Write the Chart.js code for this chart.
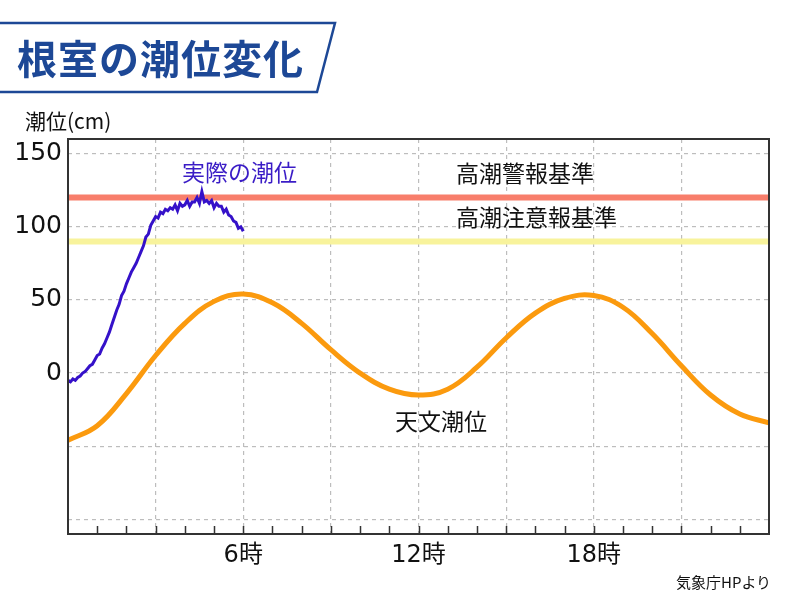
<!DOCTYPE html>
<html lang="ja">
<head>
<meta charset="utf-8">
<title>根室の潮位変化</title>
<script src="https://cdn.jsdelivr.net/npm/chart.js@4"></script>
<style>
    html, body { margin: 0; padding: 0; background: #fff; }
    #wrap { position: relative; width: 800px; height: 600px; overflow: hidden; font-family: "Noto Sans CJK JP", "Noto Sans", sans-serif; }
    #chart { position: absolute; left: 0; top: 0; }
    .txt { position: absolute; white-space: nowrap; line-height: 1; color: #111; }
    #titleBox { position: absolute; left: 0; top: 0; }
    #title { left: 17px; top: 37px; font-size: 40px; font-weight: 700; color: #1d4896; letter-spacing: 1px; }
</style>
</head>
<body>
<div id="wrap">
    <canvas id="chart" width="800" height="600"></canvas>
    <svg id="titleBox" width="360" height="100">
        <polygon points="-5,23 335,23 317,92 -5,92" fill="#ffffff" stroke="#1d4896" stroke-width="2.5"/>
    </svg>
    <div class="txt" id="title">根室の潮位変化</div>
    <div class="txt" style="left:25px; top:110px; font-size:21px;">潮位(cm)</div>
    <div class="txt" style="left:182px; top:160px; font-size:23px; color:#3a1cc6;">実際の潮位</div>
    <div class="txt" style="left:456px; top:161px; font-size:23px;">高潮警報基準</div>
    <div class="txt" style="left:456px; top:205px; font-size:23px;">高潮注意報基準</div>
    <div class="txt" style="left:395px; top:409px; font-size:23px;">天文潮位</div>
    <div class="txt" style="left:676px; top:574px; font-size:15px;">気象庁HPより</div>
</div>
<script>
// 時刻 (時) と天文潮位 (cm)
const astroHours = [0, 1, 2, 3, 4, 5, 6, 7, 8, 9, 10, 11, 12, 13, 14, 15, 16, 17, 18, 19, 20, 21, 22, 23, 24];
const astroTide = [-46, -36, -14, 12, 34, 49, 54, 48, 34, 16, 0, -11, -15, -11, 4, 24, 41, 51, 53, 45, 27, 5, -15, -28, -34];

// 実際の潮位 (cm) 0時から5分ごと
const actualStepMin = 5;
const actualTide = [
    -5, -6, -4, -5, -3, -2, 0, 1, 3, 5, 6, 9,
    12, 13, 17, 20, 24, 28, 33, 38, 43, 47, 53, 56,
    61, 65, 69, 72, 75, 79, 83, 87, 93, 95, 101, 104,
    107, 106, 110, 109, 112, 111, 113, 112, 115, 111, 116, 114,
    115, 118, 114, 117, 117, 120, 116, 124, 117, 118, 116, 118,
    113, 116, 114, 114, 110, 112, 108, 107, 104, 103, 99, 100,
    97
];

// 基準
const warningLevel = 120;   // 高潮警報基準
const advisoryLevel = 90;   // 高潮注意報基準

const yTicks = [-100, -50, 0, 50, 100, 150];
const xLabels = { 6: '6時', 12: '12時', 18: '18時' };

const astroPoints = astroHours.map((h, i) => ({ x: h, y: astroTide[i] }));
const actualPoints = actualTide.map((v, i) => ({ x: i * actualStepMin / 60, y: v }));
const levelLine = (v) => [{ x: 0, y: v }, { x: 24, y: v }];

// 枠線と時刻の目盛り (内向き)
const framePlugin = {
    id: 'frame',
    afterDraw(chart) {
        const { ctx, chartArea: a, scales } = chart;
        ctx.save();
        ctx.strokeStyle = '#333';
        ctx.beginPath();
        for (let h = 1; h < 24; h++) {
            const px = Math.round(scales.x.getPixelForValue(h)) + 0.5;
            ctx.moveTo(px, a.bottom);
            ctx.lineTo(px, a.bottom - 8);
        }
        ctx.lineWidth = 1.5;
        ctx.stroke();
        ctx.lineWidth = 2;
        ctx.strokeRect(a.left, a.top, a.right - a.left, a.bottom - a.top);
        ctx.restore();
    }
};

new Chart(document.getElementById('chart'), {
    type: 'line',
    data: {
        datasets: [
            {
                label: '実際の潮位',
                data: actualPoints,
                borderColor: '#3511c9',
                borderWidth: 3,
                pointRadius: 0,
                tension: 0,
                order: 0
            },
            {
                label: '天文潮位',
                data: astroPoints,
                borderColor: '#fb9a0e',
                borderWidth: 5,
                pointRadius: 0,
                tension: 0.4,
                order: 1
            },
            {
                label: '高潮警報基準',
                data: levelLine(warningLevel),
                borderColor: '#f87e6b',
                borderWidth: 6,
                pointRadius: 0,
                order: 2
            },
            {
                label: '高潮注意報基準',
                data: levelLine(advisoryLevel),
                borderColor: '#f8f39c',
                borderWidth: 6,
                pointRadius: 0,
                order: 3
            }
        ]
    },
    options: {
        responsive: false,
        animation: false,
        devicePixelRatio: 1,
        layout: { padding: { top: 139, left: 0, right: 31, bottom: 24 } },
        plugins: { legend: { display: false }, tooltip: { enabled: false } },
        scales: {
            x: {
                type: 'linear',
                min: 0,
                max: 24,
                afterFit: (s) => { s.height = 42; },
                afterBuildTicks: (s) => { s.ticks = astroHours.map(h => ({ value: h })); },
                grid: {
                    drawTicks: false,
                    color: (c) => (c.tick && c.tick.value % 3 === 0 && c.tick.value > 0 && c.tick.value < 24) ? '#bdbdbd' : 'rgba(0,0,0,0)',
                    lineWidth: 1.2
                },
                border: { display: false, dash: [4, 4] },
                ticks: {
                    autoSkip: false,
                    maxRotation: 0,
                    padding: 7,
                    color: '#111',
                    font: { family: '"DejaVu Sans", "Noto Sans CJK JP"', size: 24 },
                    callback: (v) => xLabels[v] || ''
                }
            },
            y: {
                min: -110,
                max: 160,
                afterFit: (s) => { s.width = 68; },
                afterBuildTicks: (s) => { s.ticks = yTicks.map(v => ({ value: v })); },
                grid: { drawTicks: false, color: '#bdbdbd', lineWidth: 1.2 },
                border: { display: false, dash: [4, 4] },
                ticks: {
                    padding: 6,
                    color: '#111',
                    font: { family: '"DejaVu Sans"', size: 25 },
                    callback: (v) => v >= 0 ? String(v) : ''
                }
            }
        }
    },
    plugins: [framePlugin]
});
</script>
</body>
</html>
